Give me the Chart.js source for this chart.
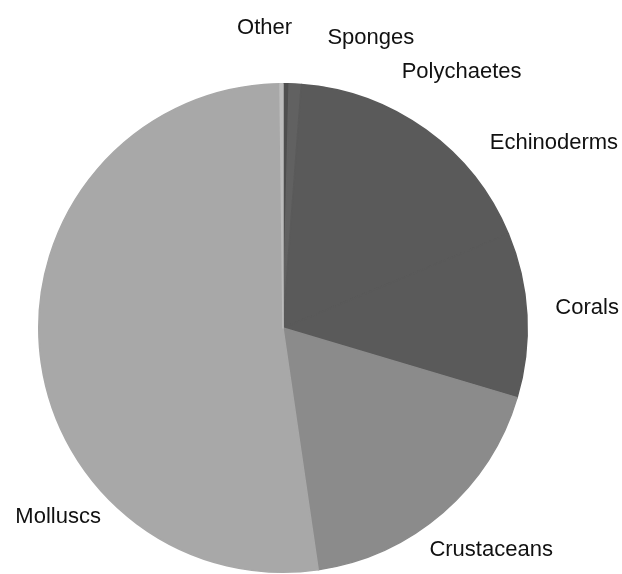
<!DOCTYPE html>
<html>
<head>
<meta charset="utf-8">
<script src="https://cdn.jsdelivr.net/npm/chart.js@4/dist/chart.umd.min.js"></script>
<style>
    html, body { margin: 0; padding: 0; background: #fff; }
    #wrap { width: 622px; height: 574px; position: relative; }
</style>
</head>
<body>
<div id="wrap"><canvas id="pieChart" width="622" height="574"></canvas></div>
<script>
// Données du graphique (pourcentages)
const categories = ['Sponges', 'Polychaetes', 'Echinoderms', 'Corals', 'Crustaceans', 'Molluscs', 'Other'];
const shares = [0.4, 0.8, 17.5, 10.9, 18.1, 52.1, 0.2];
const sliceColors = ['#4e4e4e', '#616161', '#5a5a5a', '#5a5a5a', '#8b8b8b', '#a8a8a8', '#bcbcbc'];

// Placement des étiquettes : décalage d'angle (degrés) et distance relative au rayon
const labelNudge = [8, 22, 12.4, -1.1, 7.5, -41.5, 2.1];
const labelDist = [1.2, 1.155, 1.135, 1.118, 1.09, 1.073, 1.229];

// Plugin pour dessiner les noms autour du camembert
const outsideLabels = {
    id: 'outsideLabels',
    afterDraw(chart) {
        const ctx = chart.ctx;
        const meta = chart.getDatasetMeta(0);
        ctx.save();
        ctx.font = '22px "Liberation Sans", Arial, sans-serif';
        ctx.fillStyle = '#111';
        ctx.textBaseline = 'middle';
        meta.data.forEach((arc, i) => {
            const mid = (arc.startAngle + arc.endAngle) / 2;
            const a = mid + labelNudge[i] * Math.PI / 180;
            const d = arc.outerRadius * labelDist[i];
            const x = arc.x + Math.cos(a) * d;
            const y = arc.y + Math.sin(a) * d;
            ctx.textAlign = Math.cos(mid) >= 0 ? 'left' : 'right';
            ctx.fillText(categories[i], x, y);
        });
        ctx.restore();
    }
};

new Chart(document.getElementById('pieChart'), {
    type: 'pie',
    data: {
        labels: categories,
        datasets: [{
            data: shares,
            backgroundColor: sliceColors,
            // bordure de la même couleur pour cacher les joints entre parts
            borderColor: sliceColors,
            borderWidth: 1.5,
            borderJoinStyle: 'round'
        }]
    },
    options: {
        responsive: false,
        devicePixelRatio: 1,
        animation: false,
        layout: {
            padding: { left: 38, right: 94, top: 83, bottom: 1 }
        },
        plugins: {
            legend: { display: false },
            tooltip: { enabled: false }
        }
    },
    plugins: [outsideLabels]
});
</script>
</body>
</html>
